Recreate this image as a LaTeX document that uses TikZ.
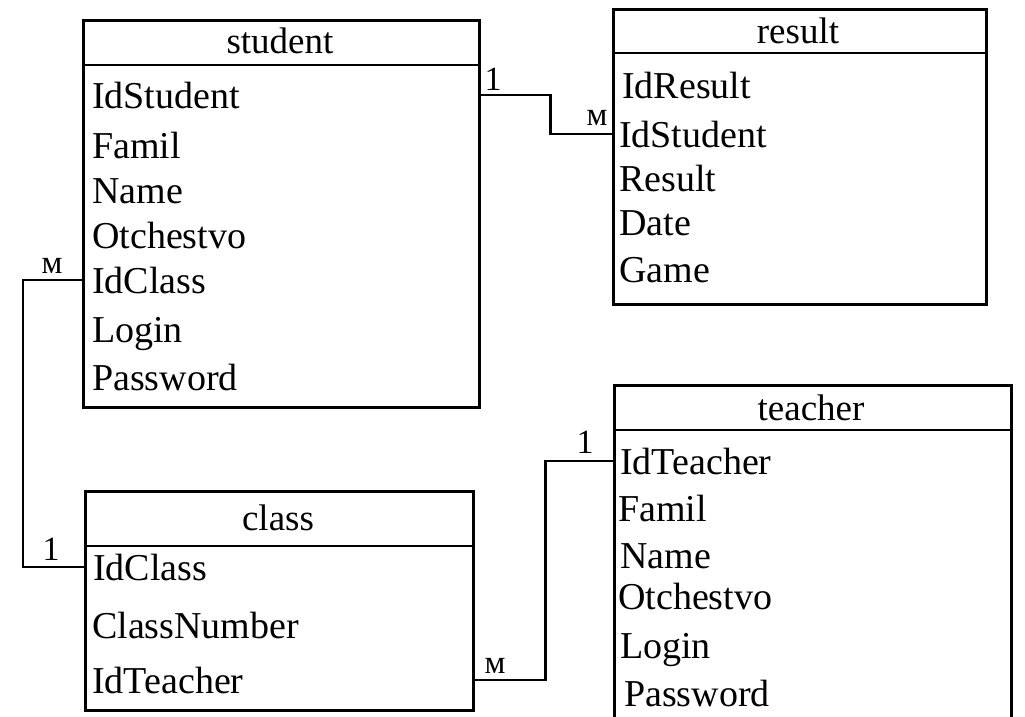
\documentclass[tikz,border=0pt]{standalone}
\usepackage{fontspec}
\setmainfont{Liberation Serif}
\begin{document}
\begin{tikzpicture}[x=1pt,y=-1pt,
  box/.style={draw=black, line width=2.6pt, rectangle, inner sep=0pt, anchor=north west},
  sep/.style={draw=black, line width=2.6pt},
  conn/.style={draw=black, line width=2.4pt},
  field/.style={anchor=base west, inner sep=0pt, font=\fontsize{38}{40}\selectfont},
  head/.style={anchor=base, inner sep=0pt, font=\fontsize{37}{40}\selectfont},
  card/.style={anchor=base, inner sep=0pt, font=\fontsize{34}{36}\selectfont},
  cardm/.style={anchor=base, inner sep=0pt, font=\fontsize{33}{35}\selectfont}]
\useasboundingbox (0,0) rectangle (1025,717);
\clip (0,0) rectangle (1025,717);

% ---------- student ----------
\node[box, minimum width=396pt, minimum height=387pt] (student) at (82,19) {};
\draw[sep] (82,65) -- (478,65);
\node[head] (sh) at (280,53) {student};
\node[field] (s1) at (92,108) {IdStudent};
\node[field] (s2) at (92,158) {Famil};
\node[field] (s3) at (92,203) {Name};
\node[field] (s4) at (92,248) {Otchestvo};
\node[field] (s5) at (92,293) {IdClass};
\node[field] (s6) at (92,342) {Login};
\node[field] (s7) at (92,390) {Password};

% ---------- result ----------
\node[box, minimum width=373pt, minimum height=295pt] (result) at (612,8) {};
\draw[sep] (612,53) -- (985,53);
\node[head] (rh) at (798,44) {result};
\node[field] (r1) at (622,99) {IdResult};
\node[field] (r2) at (619,147) {IdStudent};
\node[field] (r3) at (619,191) {Result};
\node[field] (r4) at (619,235) {Date};
\node[field] (r5) at (619,282) {Game};

% ---------- class ----------
\node[box, minimum width=388pt, minimum height=219pt] (class) at (84,490) {};
\draw[sep] (84,546) -- (472,546);
\node[head] (ch) at (278,530) {class};
\node[field] (c1) at (93,580) {IdClass};
\node[field] (c2) at (92,638) {ClassNumber};
\node[field] (c3) at (92,693) {IdTeacher};

% ---------- teacher ----------
\node[box, minimum width=397pt, minimum height=346pt] (teacher) at (613,384) {};
\draw[sep] (613,430) -- (1010,430);
\node[head] (th) at (811,420) {teacher};
\node[field] (t1) at (620,474) {IdTeacher};
\node[field] (t2) at (618,521) {Famil};
\node[field] (t3) at (620,568) {Name};
\node[field] (t4) at (618,609) {Otchestvo};
\node[field] (t5) at (620,658) {Login};
\node[field] (t6) at (624,706) {Password};

% ---------- connectors ----------
\draw[conn] (student.east |- s1.center) -- ++(70,0) |- (result.west |- r2.center);
\draw[conn] (student.west |- s5.center) -- ++(-59,0) |- (class.west |- c1.center);
\draw[conn] (class.east |- c3.center) -- ++(71,0) |- (teacher.west |- t1.center);

% ---------- cardinalities ----------
\node[card]  (k1) at (493,90)  {1};
\node[cardm] (k2) at (597,125) {м};
\node[cardm] (k3) at (52,273)  {м};
\node[card]  (k4) at (51,560)  {1};
\node[cardm] (k5) at (495,673) {м};
\node[card]  (k6) at (585,453) {1};
\end{tikzpicture}
\end{document}
